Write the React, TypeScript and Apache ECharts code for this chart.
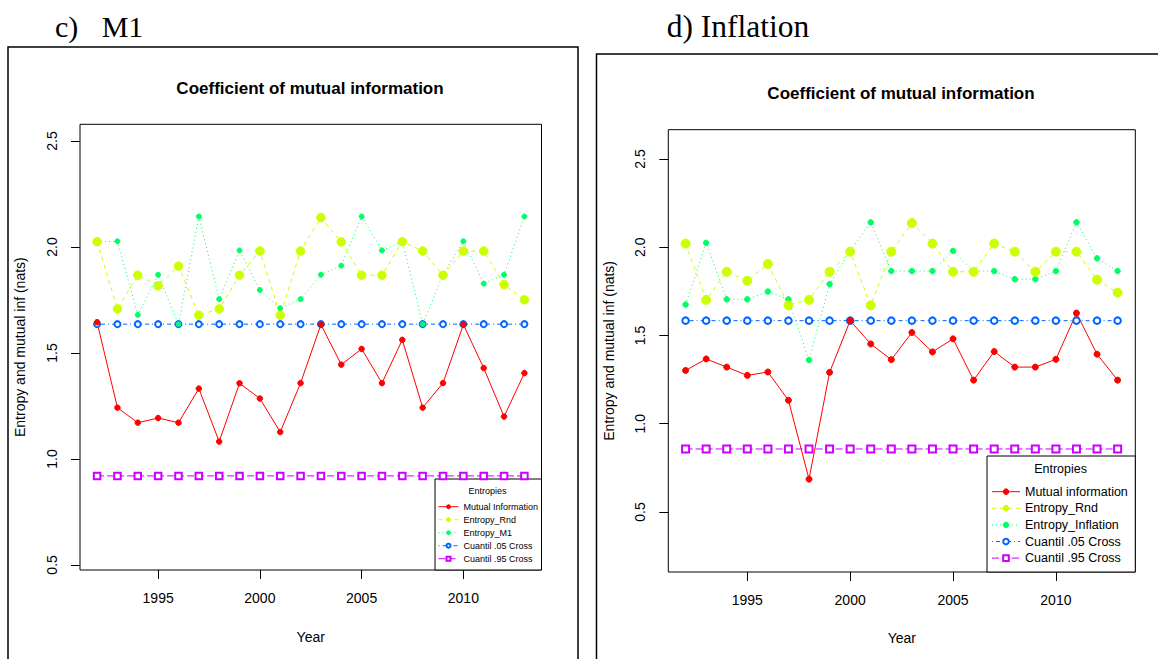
import React, { useEffect, useRef } from "react";
import * as echarts from "echarts";

const years = [1992, 1993, 1994, 1995, 1996, 1997, 1998, 1999, 2000, 2001, 2002, 2003, 2004, 2005, 2006, 2007, 2008, 2009, 2010, 2011, 2012, 2013];

// Panel c) M1
const m1MutualInfo = [1.645, 1.242, 1.171, 1.193, 1.171, 1.332, 1.082, 1.357, 1.285, 1.127, 1.358, 1.634, 1.445, 1.519, 1.358, 1.562, 1.242, 1.358, 1.634, 1.429, 1.2, 1.405];
const m1EntropyRnd = [2.025, 1.708, 1.867, 1.817, 1.91, 1.678, 1.708, 1.867, 1.981, 1.678, 1.981, 2.139, 2.024, 1.867, 1.867, 2.025, 1.981, 1.867, 1.981, 1.981, 1.823, 1.751];
const m1EntropyM1 = [2.025, 2.027, 1.68, 1.869, 1.636, 2.144, 1.754, 1.984, 1.797, 1.711, 1.754, 1.869, 1.912, 2.144, 1.984, 2.027, 1.636, 1.869, 2.027, 1.827, 1.869, 2.144];
const m1Cuantil05 = [1.636, 1.636, 1.636, 1.636, 1.636, 1.636, 1.636, 1.636, 1.636, 1.636, 1.636, 1.636, 1.636, 1.636, 1.636, 1.636, 1.636, 1.636, 1.636, 1.636, 1.636, 1.636];
const m1Cuantil95 = [0.92, 0.92, 0.92, 0.92, 0.92, 0.92, 0.92, 0.92, 0.92, 0.92, 0.92, 0.92, 0.92, 0.92, 0.92, 0.92, 0.92, 0.92, 0.92, 0.92, 0.92, 0.92];

// Panel d) Inflation
const infMutualInfo = [1.302, 1.367, 1.321, 1.274, 1.293, 1.133, 0.686, 1.291, 1.584, 1.452, 1.363, 1.517, 1.407, 1.481, 1.247, 1.409, 1.321, 1.321, 1.365, 1.627, 1.394, 1.247];
const infEntropyRnd = [2.021, 1.702, 1.861, 1.81, 1.905, 1.671, 1.702, 1.861, 1.975, 1.671, 1.975, 2.137, 2.021, 1.861, 1.861, 2.021, 1.975, 1.861, 1.975, 1.975, 1.816, 1.743];
const infEntropyInflation = [1.675, 2.025, 1.705, 1.705, 1.749, 1.705, 1.361, 1.791, 1.979, 2.141, 1.865, 1.865, 1.865, 1.979, 1.865, 1.865, 1.819, 1.819, 1.865, 2.141, 1.937, 1.865];
const infCuantil05 = [1.584, 1.584, 1.584, 1.584, 1.584, 1.584, 1.584, 1.584, 1.584, 1.584, 1.584, 1.584, 1.584, 1.584, 1.584, 1.584, 1.584, 1.584, 1.584, 1.584, 1.584, 1.584];
const infCuantil95 = [0.857, 0.857, 0.857, 0.857, 0.857, 0.857, 0.857, 0.857, 0.857, 0.857, 0.857, 0.857, 0.857, 0.857, 0.857, 0.857, 0.857, 0.857, 0.857, 0.857, 0.857, 0.857];

const xTicks = [1995, 2000, 2005, 2010];
const yTicks = [0.5, 1.0, 1.5, 2.0, 2.5];

const legendLeft = ["Mutual Information", "Entropy_Rnd", "Entropy_M1", "Cuantil .05 Cross", "Cuantil .95 Cross"];
const legendRight = ["Mutual information", "Entropy_Rnd", "Entropy_Inflation", "Cuantil .05 Cross", "Cuantil .95 Cross"];

const SANS = "'Liberation Sans', Arial, sans-serif";
const SERIF = "'Liberation Serif', 'Times New Roman', serif";

const RED = "#FF0000";
const YEL = "#CCFF00";
const GRN = "#00FF66";
const BLU = "#0066FF";
const MAG = "#CC00FF";

function pairs(vals: number[]) {
  return years.map((y, i) => [y, vals[i]]);
}

function mkSeries(name: string, vals: number[], idx: number, color: string, dash: any, symbol: string, size: number, border = 1) {
  return {
    type: "line",
    name,
    xAxisIndex: idx,
    yAxisIndex: idx,
    data: pairs(vals),
    symbol,
    symbolSize: size,
    showSymbol: true,
    showAllSymbol: true,
    silent: true,
    clip: false,
    emphasis: { disabled: true },
    lineStyle: { color, width: 1, type: dash },
    itemStyle: { color, borderColor: color, borderWidth: border },
  };
}

function xAxis(idx: number, max: number, nameGap: number) {
  return {
    type: "value",
    gridIndex: idx,
    min: 1991.16,
    max,
    name: "Year",
    nameLocation: "middle",
    nameGap,
    nameMoveOverlap: false,
    nameTextStyle: { fontFamily: SANS, fontSize: 14, color: "#000" },
    axisLine: { show: false, onZero: false },
    axisTick: { show: true, inside: false, length: 9, customValues: xTicks, lineStyle: { color: "#000", width: 1 } },
    axisLabel: { show: true, customValues: xTicks, margin: 21, fontFamily: SANS, fontSize: 14, color: "#000", formatter: (v: number) => String(v) },
    splitLine: { show: false },
  };
}

function yAxis(idx: number, min: number, max: number, nameGap: number) {
  return {
    type: "value",
    gridIndex: idx,
    min,
    max,
    name: "Entropy and mutual inf (nats)",
    nameLocation: "middle",
    nameRotate: 90,
    nameGap,
    nameMoveOverlap: false,
    nameTextStyle: { fontFamily: SANS, fontSize: 14, color: "#000" },
    axisLine: { show: false, onZero: false },
    axisTick: { show: true, inside: false, length: 9, customValues: yTicks, lineStyle: { color: "#000", width: 1 } },
    axisLabel: { show: true, customValues: yTicks, rotate: 90, margin: 21, fontFamily: SANS, fontSize: 14, color: "#000", formatter: (v: number) => v.toFixed(1) },
    splitLine: { show: false },
  };
}

export default function App() {
  const ref = useRef<HTMLDivElement>(null);
  useEffect(() => {
    if (!ref.current) return;
    const chart = echarts.init(ref.current, null, { renderer: "svg" });
    const option: any = {
      animation: false,
      backgroundColor: "#ffffff",
      grid: [
        { left: 80, top: 124.3, width: 461.5, height: 445.7, show: true, borderColor: "#000", borderWidth: 1, backgroundColor: "transparent", containLabel: false, outerBoundsMode: "none" },
        { left: 668.3, top: 129.7, width: 467, height: 442.3, show: true, borderColor: "#000", borderWidth: 1, backgroundColor: "transparent", containLabel: false, outerBoundsMode: "none" },
      ],
      xAxis: [xAxis(0, 2013.84, 60), xAxis(1, 2013.86, 58.5)],
      yAxis: [yAxis(0, 0.476, 2.579, 53), yAxis(1, 0.16, 2.666, 52.5)],
      legend: [
        {
          data: legendLeft,
          orient: "vertical",
          left: 438,
          top: 500.2,
          padding: 0,
          itemGap: 0,
          itemWidth: 20,
          itemHeight: 5,
          selectedMode: false,
          lineStyle: { width: 1 },
          itemStyle: { borderWidth: 1 },
          textStyle: { fontFamily: SANS, fontSize: 9, lineHeight: 13, color: "#000" },
          z: 5,
        },
        {
          data: legendRight,
          orient: "vertical",
          left: 991.5,
          top: 483.4,
          padding: 0,
          itemGap: 0,
          itemWidth: 28,
          itemHeight: 7,
          selectedMode: false,
          lineStyle: { width: 1 },
          itemStyle: { borderWidth: 1 },
          textStyle: { fontFamily: SANS, fontSize: 12.5, lineHeight: 16.6, color: "#000" },
          z: 5,
        },
      ],
      graphic: {
        elements: [
          { type: "rect", silent: true, z: 0, shape: { x: 8, y: 47, width: 570, height: 700 }, style: { fill: "none", stroke: "#000", lineWidth: 1.5 } },
          { type: "rect", silent: true, z: 0, shape: { x: 596.5, y: 54, width: 600, height: 700 }, style: { fill: "none", stroke: "#000", lineWidth: 1.5 } },
          { type: "rect", silent: true, z: 3, shape: { x: 435, y: 479, width: 106.5, height: 91 }, style: { fill: "#fff", stroke: "#000", lineWidth: 1 } },
          { type: "rect", silent: true, z: 3, shape: { x: 987, y: 456, width: 148.3, height: 116 }, style: { fill: "#fff", stroke: "#000", lineWidth: 1 } },
          { type: "text", silent: true, z: 6, x: 487.4, y: 490.5, style: { text: "Entropies", font: `9px ${SANS}`, fill: "#000", textAlign: "center", textVerticalAlign: "middle" } },
          { type: "text", silent: true, z: 6, x: 1060.6, y: 468.7, style: { text: "Entropies", font: `12.5px ${SANS}`, fill: "#000", textAlign: "center", textVerticalAlign: "middle" } },
          { type: "text", silent: true, z: 6, x: 310, y: 88, style: { text: "Coefficient of mutual information", font: `bold 17px ${SANS}`, fill: "#000", textAlign: "center", textVerticalAlign: "middle" } },
          { type: "text", silent: true, z: 6, x: 901, y: 93.5, style: { text: "Coefficient of mutual information", font: `bold 17px ${SANS}`, fill: "#000", textAlign: "center", textVerticalAlign: "middle" } },
          { type: "text", silent: true, z: 6, x: 55, y: 26.6, style: { text: "c)", font: `30px ${SERIF}`, fill: "#000", textAlign: "left", textVerticalAlign: "middle" } },
          { type: "text", silent: true, z: 6, x: 101.7, y: 26.6, style: { text: "M1", font: `30px ${SERIF}`, fill: "#000", textAlign: "left", textVerticalAlign: "middle" } },
          { type: "text", silent: true, z: 6, x: 666.7, y: 26.3, style: { text: "d) Inflation", font: `31.5px ${SERIF}`, fill: "#000", textAlign: "left", textVerticalAlign: "middle" } },
        ],
      },
      series: [
        mkSeries("Cuantil .05 Cross", m1Cuantil05, 0, BLU, [1, 3, 4, 3], "emptyCircle", 6, 1),
        mkSeries("Cuantil .95 Cross", m1Cuantil95, 0, MAG, [7, 3], "emptyRect", 6.5, 1),
        mkSeries("Entropy_M1", m1EntropyM1, 0, GRN, [1, 3], "circle", 5),
        mkSeries("Entropy_Rnd", m1EntropyRnd, 0, YEL, [4, 4], "circle", 8.5),
        mkSeries("Mutual Information", m1MutualInfo, 0, RED, "solid", "circle", 5.5),
        mkSeries("Cuantil .05 Cross", infCuantil05, 1, BLU, [1, 3, 4, 3], "emptyCircle", 6.5, 1),
        mkSeries("Cuantil .95 Cross", infCuantil95, 1, MAG, [7, 3], "emptyRect", 7, 1),
        mkSeries("Entropy_Inflation", infEntropyInflation, 1, GRN, [1, 3], "circle", 5.5),
        mkSeries("Entropy_Rnd", infEntropyRnd, 1, YEL, [4, 4], "circle", 9),
        mkSeries("Mutual information", infMutualInfo, 1, RED, "solid", "circle", 6),
      ],
    };
    chart.setOption(option);
    return () => chart.dispose();
  }, []);
  return <div ref={ref} style={{ position: "absolute", left: 0, top: 0, width: 1158, height: 659, background: "#fff" }} />;
}
